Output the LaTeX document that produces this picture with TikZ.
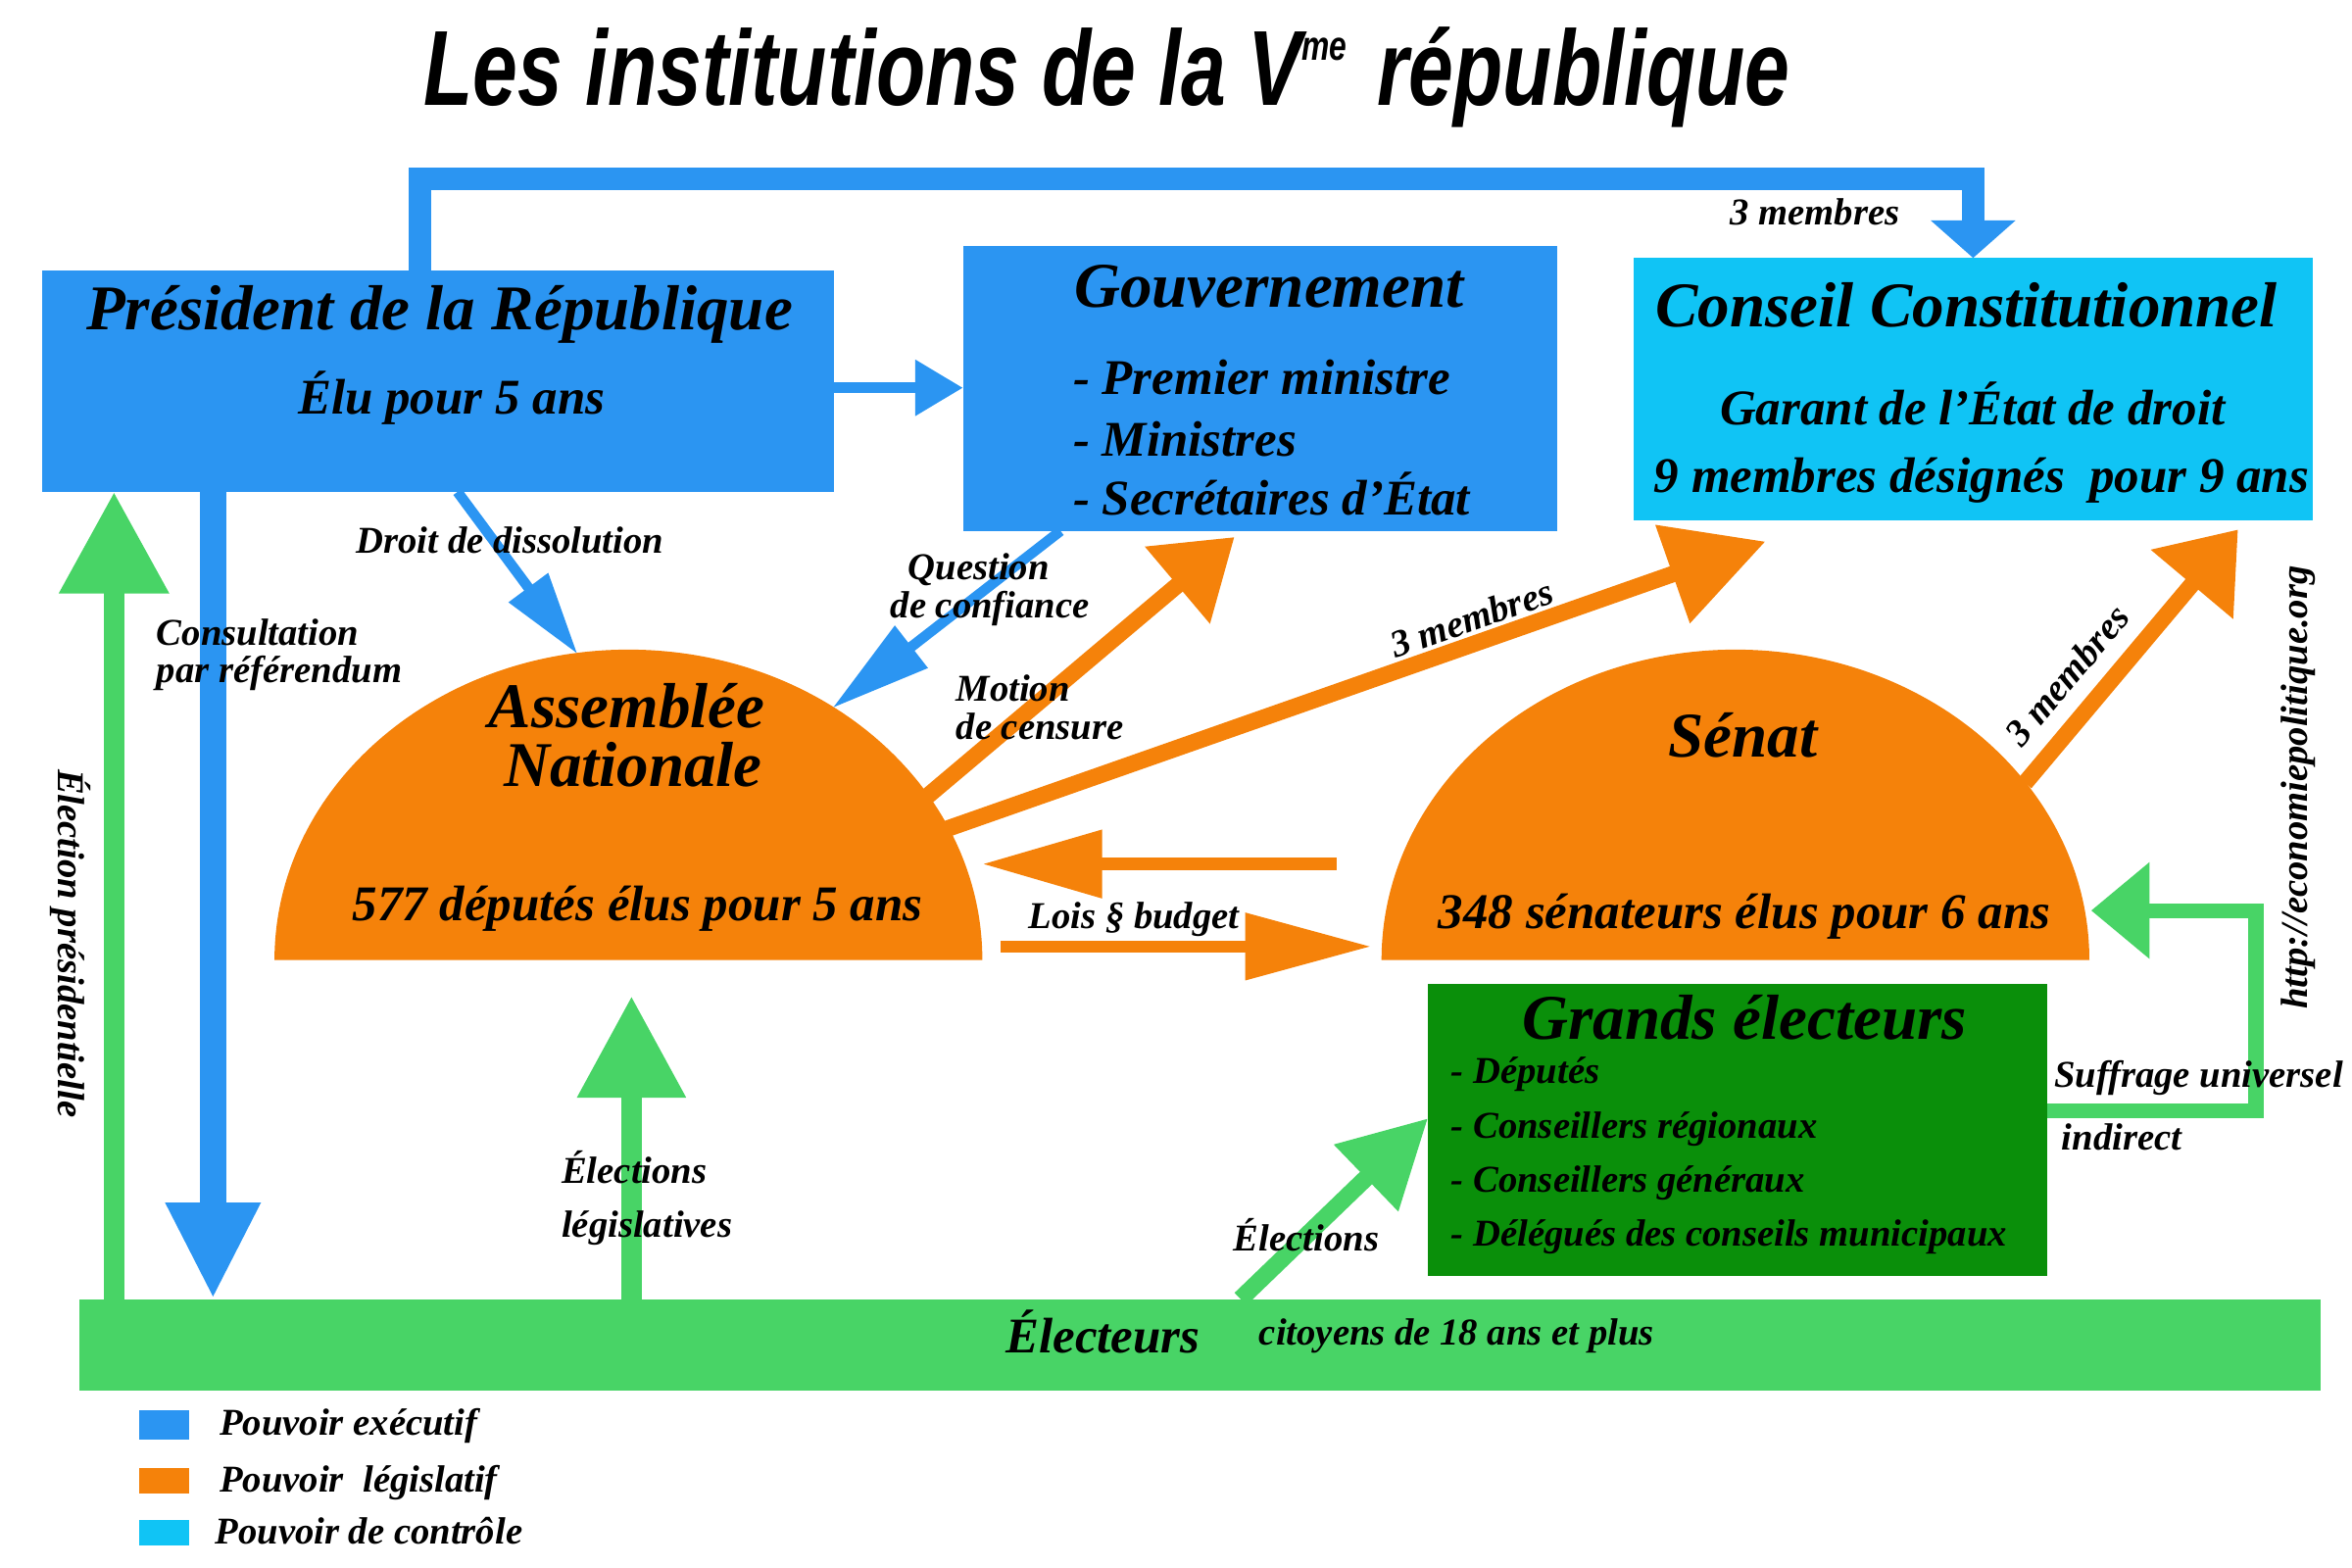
\documentclass[tikz,border=0pt]{standalone}
\usepackage{fontspec}
\usepackage{graphicx}
\setmainfont{Liberation Serif}
\newfontfamily\titlefont{Liberation Sans}
\usetikzlibrary{arrows.meta}
\definecolor{execblue}{RGB}{43,149,242}
\definecolor{ctrlcyan}{RGB}{16,196,245}
\definecolor{legorange}{RGB}{245,130,10}
\definecolor{gedark}{RGB}{10,143,10}
\definecolor{votegreen}{RGB}{72,212,102}
\tikzset{
  box/.style={rectangle, inner sep=0pt, outer sep=0pt, anchor=north west},
  legsq/.style={rectangle, inner sep=0pt, outer sep=0pt, minimum width=0.505cm, anchor=north west},
  titletxt/.style={inner sep=0pt, font=\titlefont\bfseries\itshape\fontsize{31}{32}\selectfont},
  bigtxt/.style={inner sep=0pt, font=\fontsize{18.5}{20}\selectfont\bfseries\itshape},
  midtxt/.style={inner sep=0pt, font=\fontsize{14.5}{16}\selectfont\bfseries\itshape},
  smalltxt/.style={inner sep=0pt, font=\fontsize{11}{12}\selectfont\bfseries\itshape},
  headtip/.style 2 args={-{Triangle[length=#1, width=#2]}},
}
\begin{document}
\begin{tikzpicture}[x=0.0153cm, y=-0.0153cm]
\useasboundingbox (0,0) rectangle (1568,1045);
% title
\node[titletxt, anchor=base] (title) at (738,70)
  {\scalebox{0.755}[1]{Les institutions de la V\raisebox{13pt}{\fontsize{12}{12}\selectfont me}\hspace{0.38em}république}};

% boxes
\node[box, fill=execblue, minimum width=8.08cm, minimum height=2.264cm] (prez) at (28,180) {};
\node[box, fill=execblue, minimum width=6.06cm, minimum height=2.907cm] (gouv) at (642,164) {};
\node[box, fill=ctrlcyan, minimum width=6.93cm, minimum height=2.678cm] (cc) at (1089,172) {};
\node[box, fill=gedark, minimum width=6.32cm, minimum height=2.98cm] (ge) at (952,656) {};
\node[box, fill=votegreen, minimum width=22.87cm, minimum height=0.933cm] (elect) at (53,866) {};

% the two chambers
\fill[legorange] (183,640) arc[start angle=180, end angle=0, x radius=3.611cm, y radius=3.167cm] -- cycle;
\fill[legorange] (921,640) arc[start angle=180, end angle=0, x radius=3.611cm, y radius=3.167cm] -- cycle;

\coordinate (an-diss) at (385,436);
\coordinate (an-conf) at (555,472);
\coordinate (an-mot) at (618,531);
\coordinate (an-cc) at (630,553);
\coordinate (an-lois) at (667,631);
\coordinate (an-nav) at (655,576);
\coordinate (an-base) at (421,664);
\coordinate (sen-cc) at (1350,522);
\coordinate (sen-nav) at (891,576);
\coordinate (sen-lois) at (914,631);
\coordinate (sen-suf) at (1394,607);
\coordinate (gouv-mot) at (823,358);
\coordinate (cc-an) at (1177,361);
\coordinate (cc-sen) at (1492,353);
\coordinate (colpres) at (76,0);
\coordinate (colref) at (142,0);
\coordinate (colleg) at (421,0);
\coordinate (colge) at (827,0);

% executive arrows
\draw[execblue, line width=6.5pt, headtip={10.9pt}{24pt}] (prez.north west) ++(252,0) -- ++(0,-61) -| (cc.north);
\draw[execblue, line width=3pt, headtip={13.9pt}{15.6pt}] ([yshift=-0.07cm]prez.east) -- ([yshift=-0.07cm]prez.east -| gouv.west);
\draw[execblue, line width=3pt, headtip={24pt}{13.5pt}] (prez.south west) ++(277,0) -- (an-diss);
\draw[execblue, line width=3pt, headtip={29pt}{14.8pt}] (gouv.south west) ++(65,0) -- (an-conf);
\draw[execblue, line width=7.8pt, headtip={28pt}{25.6pt}] (prez.south -| colref) -- (elect.north -| colref);

% legislative arrows
\draw[legorange, line width=4.8pt, headtip={21.7pt}{28pt}] (an-mot) -- (gouv-mot);
\draw[legorange, line width=4.8pt, headtip={28.6pt}{29pt}] (an-cc) -- (cc-an);
\draw[legorange, line width=4.8pt, headtip={20.8pt}{30pt}] (sen-cc) -- (cc-sen);
\draw[legorange, line width=3.5pt, headtip={34.7pt}{19pt}] (sen-nav) -- (an-nav);
\draw[legorange, line width=3.5pt, headtip={36.5pt}{18.7pt}] (an-lois) -- (sen-lois);

% elections
\draw[votegreen, line width=6pt, headtip={29.5pt}{30pt}] (elect.north -| colleg) -- (an-base);
\draw[votegreen, line width=6pt, headtip={29.5pt}{30.4pt}] (elect.north -| colpres) -- (prez.south -| colpres);
\draw[votegreen, line width=5pt, headtip={25pt}{25.6pt}] (elect.north -| colge) -- ([yshift=0.12cm]ge.west);
\draw[votegreen, line width=4.3pt, headtip={17pt}{27pt}] ([yshift=0.2cm]ge.east) -- ++(139,0) |- (sen-suf);

% texts in boxes
\node[bigtxt, anchor=base] (prezt) at (293,220) {Président de la République};
\node[midtxt, anchor=base] (prezd) at (301,276) {Élu pour 5 ans};
\node[bigtxt, anchor=base] (gouvt) at (846,205) {Gouvernement};
\node[midtxt, anchor=base west] (gouv1) at (715,263) {- Premier ministre};
\node[midtxt, anchor=base west] (gouv2) at (715,304) {- Ministres};
\node[midtxt, anchor=base west] (gouv3) at (715,343) {- Secrétaires d’État};
\node[bigtxt, anchor=base] (cct) at (1311,218) {Conseil Constitutionnel};
\node[midtxt, anchor=base] (cc1) at (1315,283) {Garant de l’État de droit};
\node[midtxt, anchor=base] (cc2) at (1321,328) {9 membres désignés\ \ pour 9 ans};
\node[bigtxt, anchor=base] (ant1) at (418,485) {Assemblée};
\node[bigtxt, anchor=base] (ant2) at (422,524) {Nationale};
\node[midtxt, anchor=base] (and) at (425,614) {577 députés élus pour 5 ans};
\node[bigtxt, anchor=base] (sent) at (1162,505) {Sénat};
\node[midtxt, anchor=base] (send) at (1163,619) {348 sénateurs élus pour 6 ans};
\node[bigtxt, anchor=base] (get) at (1163,693) {Grands électeurs};
\node[smalltxt, anchor=base west] (ge1) at (967,722) {- Députés};
\node[smalltxt, anchor=base west] (ge2) at (967,759) {- Conseillers régionaux};
\node[smalltxt, anchor=base west] (ge3) at (967,795) {- Conseillers généraux};
\node[smalltxt, anchor=base west] (ge4) at (967,831) {- Délégués des conseils municipaux};
\node[midtxt, anchor=base west] (electt) at (670,902) {Électeurs};
\node[smalltxt, anchor=base west] (electd) at (839,897) {citoyens de 18 ans et plus};

% connector labels
\node[smalltxt, anchor=base] (lbtop) at (1210,150) {3 membres};
\node[smalltxt, anchor=base] (lbdiss) at (340,369) {Droit de dissolution};
\node[smalltxt, anchor=base west, align=left] (lbref) at (104,455) {Consultation\\[-1.2pt]par référendum};
\node[smalltxt, anchor=base, align=center] (lbconf) at (660,412) {\hspace{-0.6em}Question\\[-1pt]de confiance};
\node[smalltxt, anchor=base west, align=left] (lbmot) at (637,493) {Motion\\[-1pt]de censure};
\node[smalltxt, rotate=19.3] (lbancc) at (981,412) {3 membres};
\node[smalltxt, rotate=50] (lbsencc) at (1378,450) {3 membres};
\node[smalltxt, anchor=base] (lblois) at (756,619) {Lois § budget};
\node[smalltxt, anchor=base west] (lbleg1) at (374,789) {Élections};
\node[smalltxt, anchor=base west] (lbleg2) at (374,825) {législatives};
\node[smalltxt, rotate=-90] (lbpres) at (47,629) {Élection présidentielle};
\node[smalltxt, anchor=base west] (lbge) at (822,834) {Élections};
\node[smalltxt, anchor=base west] (lbsuf1) at (1369,725) {Suffrage universel};
\node[smalltxt, anchor=base west] (lbsuf2) at (1374,767) {indirect};
\node[smalltxt, rotate=90] (url) at (1532,525) {http://economiepolitique.org};

% legend
\node[legsq, fill=execblue, minimum height=0.306cm] (legexec) at (93,940) {};
\node[legsq, fill=legorange, minimum height=0.26cm] (legleg) at (93,979) {};
\node[legsq, fill=ctrlcyan, minimum height=0.26cm] (legctrl) at (93,1013) {};
\node[smalltxt, anchor=base west] (legexect) at (146,957) {Pouvoir exécutif};
\node[smalltxt, anchor=base west] (leglegt) at (146,995) {Pouvoir\ \ législatif};
\node[smalltxt, anchor=base west] (legctrlt) at (143,1029) {Pouvoir de contrôle};
\end{tikzpicture}
\end{document}
